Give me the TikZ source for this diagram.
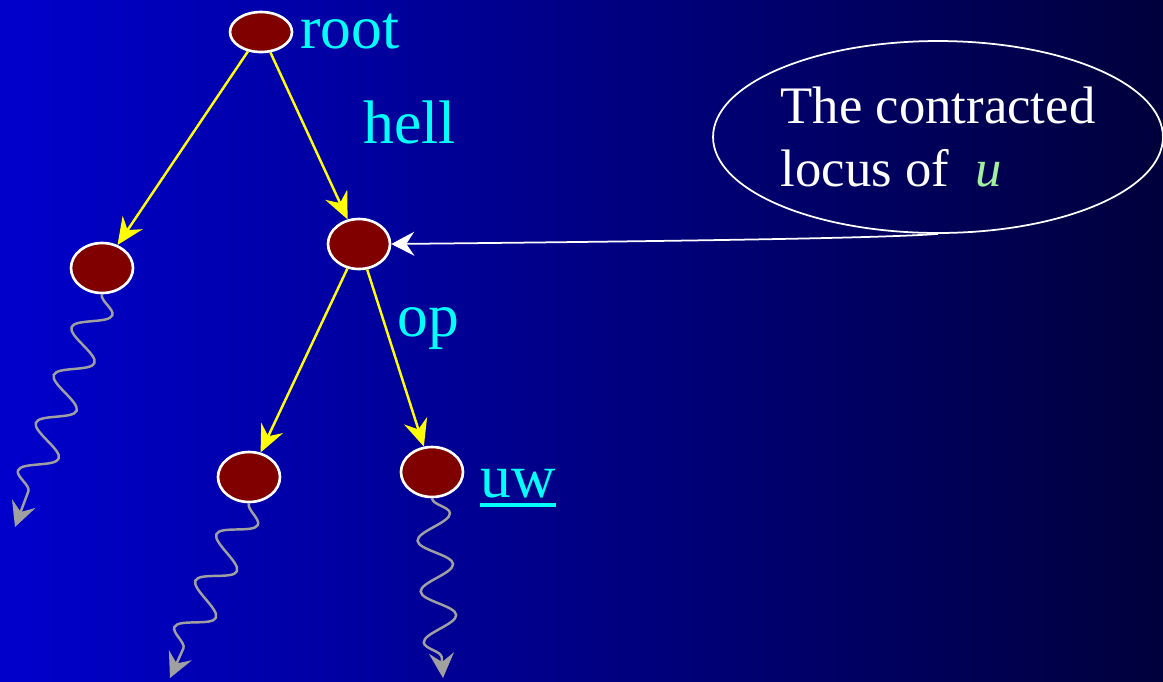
\documentclass[tikz,border=0pt]{standalone}
\usepackage{fontspec}
\setmainfont{Liberation Serif}
\usepackage{tikz}
\usetikzlibrary{arrows.meta,decorations.pathmorphing,shapes.geometric}
\definecolor{SlideBlue}{HTML}{0000CC}
\definecolor{SlideMid}{HTML}{00009C}
\definecolor{SlideNavy}{HTML}{00003C}
\definecolor{NodeRed}{HTML}{800000}
\definecolor{LabelCyan}{HTML}{00FFFF}
\definecolor{EdgeYellow}{HTML}{FFFF00}
\definecolor{WaveGray}{HTML}{A0A0A0}
\definecolor{VarGreen}{HTML}{A0F0A0}
% thick underline below the baseline
\newcommand\ulword[1]{\setbox0\hbox{#1}\rlap{\vrule width\wd0 height -3.4pt depth 5.6pt}\box0}

\tikzset{
  trienode/.style={ellipse,draw=white,fill=NodeRed,line width=1.5pt,
    minimum width=1.24cm,minimum height=1cm,inner sep=0pt},
  trieedge/.style={EdgeYellow,line width=1.4pt,
    -{Stealth[length=0.54cm,width=0.48cm,inset=0.18cm]}},
  edgetext/.style={text=LabelCyan,font=\fontsize{35}{40}\selectfont,
    inner sep=0pt,anchor=base west},
  wave/.style={WaveGray,line width=1.4pt,decorate,
    decoration={snake,segment length=1.02cm,amplitude=0.34cm,post length=0.4cm},
    -{Stealth[length=0.5cm,width=0.5cm,inset=0.18cm]}}
}

\begin{document}
\begin{tikzpicture}[x=0.02cm,y=-0.02cm]
  \useasboundingbox (0,0) rectangle (1163,681);
  \clip (0,0) rectangle (1163,681);
  \shade[left color=SlideBlue,middle color=SlideMid,right color=SlideNavy]
    (0,0) rectangle (1163,681);

  % trie nodes
  \node[trienode,minimum height=0.8cm] (root) at (261,32) {};
  \node[trienode] (lft) at (102,268) {};
  \node[trienode] (mid) at (359,244) {};
  \node[trienode] (bot) at (249,477) {};
  \node[trienode] (uwn) at (432,472) {};

  \node[edgetext] (rootlbl) at (300,48) {root};
  \node[edgetext] (hell) at (363,143) {hell};
  \node[edgetext] (op) at (397,336) {op};
  \node[edgetext] (uw) at (480,497) {\ulword{uw}};

  \draw[trieedge] (root) -- (lft);
  \draw[trieedge] (root) -- (mid);
  \draw[trieedge] (mid) -- (bot);
  \draw[trieedge] (mid) -- (uwn);

  % subtrees hanging below
  \coordinate (lftend) at (15,527);
  \coordinate (botend) at (170,678);
  \coordinate (uwend) at (443,678);
  \draw[wave] (lft.south) -- (lftend);
  \draw[wave] (bot.south) -- (botend);
  \draw[wave] (uwn.south) -- (uwend);

  % callout
  \node[ellipse,draw=white,line width=1pt,minimum width=9cm,minimum height=3.84cm,
    inner sep=0pt,align=left,text=white,font=\fontsize{30}{36}\selectfont]
    (callout) at (938,137)
    {The contracted\\locus of\hspace{0.5em}\textcolor{VarGreen}{\textit{u}}};
  \draw[white,line width=1pt,-{Stealth[length=0.46cm,width=0.48cm,inset=0.16cm]}]
    (callout.south) .. controls +(-60,5) and +(200,-2) .. (mid.east);
\end{tikzpicture}
\end{document}
